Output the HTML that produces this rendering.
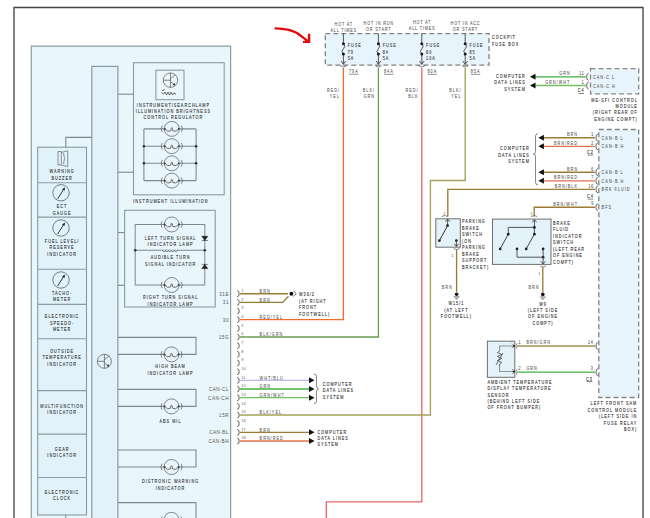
<!DOCTYPE html><html><head><meta charset="utf-8"><style>html,body{margin:0;padding:0;background:#fff;width:650px;height:518px;overflow:hidden}text{font-family:"Liberation Sans",sans-serif}</style></head><body><svg width="650" height="518" viewBox="0 0 650 518" style="display:block;font-family:'Liberation Sans',sans-serif">
<rect x="0" y="0" width="650" height="518" fill="#ffffff"/>
<polyline points="14,518 14,7.5 643,7.5 643,518" stroke="#444" stroke-width="1.35" fill="none" />
<rect x="31.3" y="46.1" width="199.3" height="480" fill="#e9f6fc" stroke="#8c9ba2" stroke-width="1.2"/>
<rect x="91.8" y="66.4" width="26.1" height="460" fill="#e1f2fa" stroke="#8c9ba2" stroke-width="1.2"/>
<rect x="37.7" y="147.2" width="48.8" height="367.8" fill="#e1f2fa" stroke="#8c9ba2" stroke-width="1.1"/>
<line x1="37.7" y1="182.8" x2="86.5" y2="182.8" stroke="#8c9ba2" stroke-width="1.1"/>
<line x1="37.7" y1="217.1" x2="86.5" y2="217.1" stroke="#8c9ba2" stroke-width="1.1"/>
<line x1="37.7" y1="269.2" x2="86.5" y2="269.2" stroke="#8c9ba2" stroke-width="1.1"/>
<line x1="37.7" y1="304.4" x2="86.5" y2="304.4" stroke="#8c9ba2" stroke-width="1.1"/>
<line x1="37.7" y1="338.7" x2="86.5" y2="338.7" stroke="#8c9ba2" stroke-width="1.1"/>
<line x1="37.7" y1="390.6" x2="86.5" y2="390.6" stroke="#8c9ba2" stroke-width="1.1"/>
<line x1="37.7" y1="434.1" x2="86.5" y2="434.1" stroke="#8c9ba2" stroke-width="1.1"/>
<line x1="37.7" y1="477.5" x2="86.5" y2="477.5" stroke="#8c9ba2" stroke-width="1.1"/>
<line x1="65.8" y1="515" x2="65.8" y2="518" stroke="#7d8a90" stroke-width="1.1"/>
<polyline points="65.8,147.2 65.8,137.4 91.8,137.4" stroke="#7d8a90" stroke-width="1.1" fill="none" />
<rect x="133.5" y="62.7" width="90.7" height="132.1" fill="#e9f6fc" stroke="#8c9ba2" stroke-width="1.1"/>
<line x1="118" y1="94.2" x2="133.5" y2="94.2" stroke="#7d8a90" stroke-width="1.1"/>
<line x1="118" y1="172.2" x2="133.5" y2="172.2" stroke="#7d8a90" stroke-width="1.1"/>
<rect x="155.9" y="70.2" width="28.1" height="29.5" fill="#e9f6fc" stroke="#8c9ba2" stroke-width="1.1"/>
<circle cx="170.5" cy="80.2" r="7.2" fill="none" stroke="#666" stroke-width="0.8"/>
<path d="M163.3,80.2 H170.5 M170.5,73.0 V87.4 M170.5,78.7 L175.3,74.7 M170.5,81.7 L175.0,85.2" stroke="#666" stroke-width="0.8" fill="none"/>
<path d="M175.3,85.60000000000001 l-2.6,-0.6 l1.8,-1.9 z" fill="#222"/>
<path d="M161.5,92.5 l2,1.5 l1.5,-2 l1.5,3 l1.5,-3 l1.5,3 l1.5,-3 l1.5,3 l1.5,-2 l2,1 M162,91 l3,-1.5" stroke="#444" stroke-width="0.8" fill="none"/>
<text transform="translate(173.4,106.8) scale(0.7,1)" font-size="5.4" fill="#2c2c2c" text-anchor="middle" letter-spacing="1.45" stroke="#2c2c2c" stroke-width="0.12">INSTRUMENT/SEARCHLAMP</text>
<text transform="translate(173.4,113) scale(0.7,1)" font-size="5.4" fill="#2c2c2c" text-anchor="middle" letter-spacing="1.45" stroke="#2c2c2c" stroke-width="0.12">ILLUMINATION BRIGHTNESS</text>
<text transform="translate(173.4,119.2) scale(0.7,1)" font-size="5.4" fill="#2c2c2c" text-anchor="middle" letter-spacing="1.45" stroke="#2c2c2c" stroke-width="0.12">CONTROL REGULATOR</text>
<line x1="143.9" y1="128.9" x2="143.9" y2="180.6" stroke="#7d8a90" stroke-width="1.1"/>
<line x1="196.1" y1="128.9" x2="196.1" y2="180.6" stroke="#7d8a90" stroke-width="1.1"/>
<line x1="143.9" y1="128.9" x2="196.1" y2="128.9" stroke="#7d8a90" stroke-width="1.1"/>
<circle cx="171.8" cy="128.9" r="7.5" fill="#e8f4fa" stroke="#6e7a80" stroke-width="0.9"/>
<path d="M164.8,128.9 Q167.8,132.70000000000002 170.70000000000002,130.8 M178.8,128.9 Q175.8,132.70000000000002 172.9,130.8 M170.70000000000002,130.8 Q171.8,124.4 172.9,130.8" stroke="#444" stroke-width="0.75" fill="none"/>
<circle cx="164.8" cy="128.9" r="0.9" fill="#333"/><circle cx="178.8" cy="128.9" r="0.9" fill="#333"/>
<path d="M162.20000000000002,125.7 q-2,3.2 0,6.4 M181.4,125.7 q2,3.2 0,6.4" stroke="#666" stroke-width="0.8" fill="none"/>
<line x1="143.9" y1="146.2" x2="196.1" y2="146.2" stroke="#7d8a90" stroke-width="1.1"/>
<circle cx="171.8" cy="146.2" r="7.5" fill="#e8f4fa" stroke="#6e7a80" stroke-width="0.9"/>
<path d="M164.8,146.2 Q167.8,150.0 170.70000000000002,148.1 M178.8,146.2 Q175.8,150.0 172.9,148.1 M170.70000000000002,148.1 Q171.8,141.7 172.9,148.1" stroke="#444" stroke-width="0.75" fill="none"/>
<circle cx="164.8" cy="146.2" r="0.9" fill="#333"/><circle cx="178.8" cy="146.2" r="0.9" fill="#333"/>
<path d="M162.20000000000002,143.0 q-2,3.2 0,6.4 M181.4,143.0 q2,3.2 0,6.4" stroke="#666" stroke-width="0.8" fill="none"/>
<line x1="143.9" y1="163.3" x2="196.1" y2="163.3" stroke="#7d8a90" stroke-width="1.1"/>
<circle cx="171.8" cy="163.3" r="7.5" fill="#e8f4fa" stroke="#6e7a80" stroke-width="0.9"/>
<path d="M164.8,163.3 Q167.8,167.10000000000002 170.70000000000002,165.20000000000002 M178.8,163.3 Q175.8,167.10000000000002 172.9,165.20000000000002 M170.70000000000002,165.20000000000002 Q171.8,158.8 172.9,165.20000000000002" stroke="#444" stroke-width="0.75" fill="none"/>
<circle cx="164.8" cy="163.3" r="0.9" fill="#333"/><circle cx="178.8" cy="163.3" r="0.9" fill="#333"/>
<path d="M162.20000000000002,160.10000000000002 q-2,3.2 0,6.4 M181.4,160.10000000000002 q2,3.2 0,6.4" stroke="#666" stroke-width="0.8" fill="none"/>
<line x1="143.9" y1="180.6" x2="196.1" y2="180.6" stroke="#7d8a90" stroke-width="1.1"/>
<circle cx="171.8" cy="180.6" r="7.5" fill="#e8f4fa" stroke="#6e7a80" stroke-width="0.9"/>
<path d="M164.8,180.6 Q167.8,184.4 170.70000000000002,182.5 M178.8,180.6 Q175.8,184.4 172.9,182.5 M170.70000000000002,182.5 Q171.8,176.1 172.9,182.5" stroke="#444" stroke-width="0.75" fill="none"/>
<circle cx="164.8" cy="180.6" r="0.9" fill="#333"/><circle cx="178.8" cy="180.6" r="0.9" fill="#333"/>
<path d="M162.20000000000002,177.4 q-2,3.2 0,6.4 M181.4,177.4 q2,3.2 0,6.4" stroke="#666" stroke-width="0.8" fill="none"/>
<circle cx="143.9" cy="146.2" r="1.3" fill="#333"/>
<circle cx="196.1" cy="146.2" r="1.3" fill="#333"/>
<circle cx="143.9" cy="163.3" r="1.3" fill="#333"/>
<circle cx="196.1" cy="163.3" r="1.3" fill="#333"/>
<text transform="translate(170.9,202.8) scale(0.7,1)" font-size="5.4" fill="#2c2c2c" text-anchor="middle" letter-spacing="1.45" stroke="#2c2c2c" stroke-width="0.12">INSTRUMENT ILLUMINATION</text>
<rect x="124.6" y="210.3" width="90.6" height="96.7" fill="#e9f6fc" stroke="#8c9ba2" stroke-width="1.1"/>
<line x1="118" y1="232.6" x2="124.6" y2="232.6" stroke="#7d8a90" stroke-width="1.1"/>
<line x1="118" y1="285.3" x2="124.6" y2="285.3" stroke="#7d8a90" stroke-width="1.1"/>
<rect x="135.2" y="224.5" width="69.6" height="60.5" fill="none" stroke="#7d8a90" stroke-width="1.0"/>
<line x1="135.2" y1="250.2" x2="204.8" y2="250.2" stroke="#7d8a90" stroke-width="1.1"/>
<circle cx="135.2" cy="250.2" r="1.3" fill="#333"/>
<circle cx="204.8" cy="250.2" r="1.3" fill="#333"/>
<circle cx="171.7" cy="224.5" r="7.5" fill="#e8f4fa" stroke="#6e7a80" stroke-width="0.9"/>
<path d="M164.7,224.5 Q167.7,228.3 170.6,226.4 M178.7,224.5 Q175.7,228.3 172.79999999999998,226.4 M170.6,226.4 Q171.7,220.0 172.79999999999998,226.4" stroke="#444" stroke-width="0.75" fill="none"/>
<circle cx="164.7" cy="224.5" r="0.9" fill="#333"/><circle cx="178.7" cy="224.5" r="0.9" fill="#333"/>
<path d="M162.1,221.3 q-2,3.2 0,6.4 M181.29999999999998,221.3 q2,3.2 0,6.4" stroke="#666" stroke-width="0.8" fill="none"/>
<circle cx="171.7" cy="285" r="7.5" fill="#e8f4fa" stroke="#6e7a80" stroke-width="0.9"/>
<path d="M164.7,285 Q167.7,288.8 170.6,286.9 M178.7,285 Q175.7,288.8 172.79999999999998,286.9 M170.6,286.9 Q171.7,280.5 172.79999999999998,286.9" stroke="#444" stroke-width="0.75" fill="none"/>
<circle cx="164.7" cy="285" r="0.9" fill="#333"/><circle cx="178.7" cy="285" r="0.9" fill="#333"/>
<path d="M162.1,281.8 q-2,3.2 0,6.4 M181.29999999999998,281.8 q2,3.2 0,6.4" stroke="#666" stroke-width="0.8" fill="none"/>
<path d="M162.5,250.2 q1.5,3.2 3,0 q1.5,3.2 3,0 q1.5,3.2 3,0 q1.5,3.2 3,0 q1.5,3.2 3,0" stroke="#555" stroke-width="0.8" fill="#e9f5fb"/>
<path d="M201.8,236.3 h6 l-3,4 z M201.8,240.5 h6" fill="#222" stroke="#222" stroke-width="0.6"/>
<path d="M201.8,268.6 h6 l-3,-4 z M201.8,264.4 h6" fill="#222" stroke="#222" stroke-width="0.6"/>
<text transform="translate(170.6,239.9) scale(0.7,1)" font-size="5.4" fill="#2c2c2c" text-anchor="middle" letter-spacing="1.45" stroke="#2c2c2c" stroke-width="0.12">LEFT TURN SIGNAL</text>
<text transform="translate(170.6,245.9) scale(0.7,1)" font-size="5.4" fill="#2c2c2c" text-anchor="middle" letter-spacing="1.45" stroke="#2c2c2c" stroke-width="0.12">INDICATOR LAMP</text>
<text transform="translate(170.6,259) scale(0.7,1)" font-size="5.4" fill="#2c2c2c" text-anchor="middle" letter-spacing="1.45" stroke="#2c2c2c" stroke-width="0.12">AUDIBLE TURN</text>
<text transform="translate(170.6,265.8) scale(0.7,1)" font-size="5.4" fill="#2c2c2c" text-anchor="middle" letter-spacing="1.45" stroke="#2c2c2c" stroke-width="0.12">SIGNAL INDICATOR</text>
<text transform="translate(170.6,299.4) scale(0.7,1)" font-size="5.4" fill="#2c2c2c" text-anchor="middle" letter-spacing="1.45" stroke="#2c2c2c" stroke-width="0.12">RIGHT TURN SIGNAL</text>
<text transform="translate(170.6,305.7) scale(0.7,1)" font-size="5.4" fill="#2c2c2c" text-anchor="middle" letter-spacing="1.45" stroke="#2c2c2c" stroke-width="0.12">INDICATOR LAMP</text>
<polyline points="118,337.4 196,337.4 196,354.4 118,354.4" stroke="#7d8a90" stroke-width="1.1" fill="none" />
<circle cx="171.5" cy="354.4" r="7.5" fill="#e8f4fa" stroke="#6e7a80" stroke-width="0.9"/>
<path d="M164.5,354.4 Q167.5,358.2 170.4,356.29999999999995 M178.5,354.4 Q175.5,358.2 172.6,356.29999999999995 M170.4,356.29999999999995 Q171.5,349.9 172.6,356.29999999999995" stroke="#444" stroke-width="0.75" fill="none"/>
<circle cx="164.5" cy="354.4" r="0.9" fill="#333"/><circle cx="178.5" cy="354.4" r="0.9" fill="#333"/>
<path d="M161.9,351.2 q-2,3.2 0,6.4 M181.1,351.2 q2,3.2 0,6.4" stroke="#666" stroke-width="0.8" fill="none"/>
<text transform="translate(170.5,368.4) scale(0.7,1)" font-size="5.4" fill="#2c2c2c" text-anchor="middle" letter-spacing="1.45" stroke="#2c2c2c" stroke-width="0.12">HIGH BEAM</text>
<text transform="translate(170.5,375) scale(0.7,1)" font-size="5.4" fill="#2c2c2c" text-anchor="middle" letter-spacing="1.45" stroke="#2c2c2c" stroke-width="0.12">INDICATOR LAMP</text>
<polyline points="118,389.4 196,389.4 196,406.4 118,406.4" stroke="#7d8a90" stroke-width="1.1" fill="none" />
<circle cx="171.5" cy="406.4" r="7.5" fill="#e8f4fa" stroke="#6e7a80" stroke-width="0.9"/>
<path d="M164.5,406.4 Q167.5,410.2 170.4,408.29999999999995 M178.5,406.4 Q175.5,410.2 172.6,408.29999999999995 M170.4,408.29999999999995 Q171.5,401.9 172.6,408.29999999999995" stroke="#444" stroke-width="0.75" fill="none"/>
<circle cx="164.5" cy="406.4" r="0.9" fill="#333"/><circle cx="178.5" cy="406.4" r="0.9" fill="#333"/>
<path d="M161.9,403.2 q-2,3.2 0,6.4 M181.1,403.2 q2,3.2 0,6.4" stroke="#666" stroke-width="0.8" fill="none"/>
<text transform="translate(170.5,423) scale(0.7,1)" font-size="5.4" fill="#2c2c2c" text-anchor="middle" letter-spacing="1.45" stroke="#2c2c2c" stroke-width="0.12">ABS MIL</text>
<polyline points="118,450 196,450 196,467 118,467" stroke="#7d8a90" stroke-width="1.1" fill="none" />
<circle cx="171.5" cy="467" r="7.5" fill="#e8f4fa" stroke="#6e7a80" stroke-width="0.9"/>
<path d="M164.5,467 Q167.5,470.8 170.4,468.9 M178.5,467 Q175.5,470.8 172.6,468.9 M170.4,468.9 Q171.5,462.5 172.6,468.9" stroke="#444" stroke-width="0.75" fill="none"/>
<circle cx="164.5" cy="467" r="0.9" fill="#333"/><circle cx="178.5" cy="467" r="0.9" fill="#333"/>
<path d="M161.9,463.8 q-2,3.2 0,6.4 M181.1,463.8 q2,3.2 0,6.4" stroke="#666" stroke-width="0.8" fill="none"/>
<text transform="translate(170.5,483.4) scale(0.7,1)" font-size="5.4" fill="#2c2c2c" text-anchor="middle" letter-spacing="1.45" stroke="#2c2c2c" stroke-width="0.12">DISTRONIC WARNING</text>
<text transform="translate(170.5,490) scale(0.7,1)" font-size="5.4" fill="#2c2c2c" text-anchor="middle" letter-spacing="1.45" stroke="#2c2c2c" stroke-width="0.12">INDICATOR</text>
<polyline points="118,502.6 196,502.6 196,520" stroke="#7d8a90" stroke-width="1.1" fill="none" />
<circle cx="171.5" cy="519.8" r="7.5" fill="#e8f4fa" stroke="#6e7a80" stroke-width="0.9"/>
<path d="M164.5,519.8 Q167.5,523.5999999999999 170.4,521.6999999999999 M178.5,519.8 Q175.5,523.5999999999999 172.6,521.6999999999999 M170.4,521.6999999999999 Q171.5,515.3 172.6,521.6999999999999" stroke="#444" stroke-width="0.75" fill="none"/>
<circle cx="164.5" cy="519.8" r="0.9" fill="#333"/><circle cx="178.5" cy="519.8" r="0.9" fill="#333"/>
<path d="M161.9,516.5999999999999 q-2,3.2 0,6.4 M181.1,516.5999999999999 q2,3.2 0,6.4" stroke="#666" stroke-width="0.8" fill="none"/>
<circle cx="104.4" cy="361.3" r="7" fill="none" stroke="#666" stroke-width="0.8"/>
<path d="M97.4,361.3 H104.4 M104.4,354.3 V368.3 M104.4,359.8 L109.2,355.8 M104.4,362.8 L108.9,366.3" stroke="#666" stroke-width="0.8" fill="none"/>
<path d="M109.2,366.7 l-2.6,-0.6 l1.8,-1.9 z" fill="#222"/>
<path d="M58,151.5 h3.3 v13.5 h-3.3 z M61.3,152.5 l6.4,-1.8 v16 l-6.4,-1.7 M63.5,153 q2,5.5 0,11" stroke="#666" stroke-width="0.7" fill="none"/>
<circle cx="61" cy="192.8" r="8.2" fill="none" stroke="#555" stroke-width="0.75"/>
<path d="M57.6,198.8 L63.8,189.20000000000002" stroke="#222" stroke-width="0.9"/>
<path d="M65,187.20000000000002 l-0.4,3.6 l-2.6,-1.6 z" fill="#222"/>
<circle cx="61" cy="228" r="8.2" fill="none" stroke="#555" stroke-width="0.75"/>
<path d="M57.6,234 L63.8,224.4" stroke="#222" stroke-width="0.9"/>
<path d="M65,222.4 l-0.4,3.6 l-2.6,-1.6 z" fill="#222"/>
<circle cx="61" cy="280" r="8.2" fill="none" stroke="#555" stroke-width="0.75"/>
<path d="M57.6,286 L63.8,276.4" stroke="#222" stroke-width="0.9"/>
<path d="M65,274.4 l-0.4,3.6 l-2.6,-1.6 z" fill="#222"/>
<text transform="translate(62.1,172.8) scale(0.7,1)" font-size="5.4" fill="#2c2c2c" text-anchor="middle" letter-spacing="1.45" stroke="#2c2c2c" stroke-width="0.12">WARNING</text>
<text transform="translate(62.1,179.5) scale(0.7,1)" font-size="5.4" fill="#2c2c2c" text-anchor="middle" letter-spacing="1.45" stroke="#2c2c2c" stroke-width="0.12">BUZZER</text>
<text transform="translate(62.1,208) scale(0.7,1)" font-size="5.4" fill="#2c2c2c" text-anchor="middle" letter-spacing="1.45" stroke="#2c2c2c" stroke-width="0.12">ECT</text>
<text transform="translate(62.1,214.5) scale(0.7,1)" font-size="5.4" fill="#2c2c2c" text-anchor="middle" letter-spacing="1.45" stroke="#2c2c2c" stroke-width="0.12">GAUGE</text>
<text transform="translate(62.1,243.2) scale(0.7,1)" font-size="5.4" fill="#2c2c2c" text-anchor="middle" letter-spacing="1.45" stroke="#2c2c2c" stroke-width="0.12">FUEL LEVEL/</text>
<text transform="translate(62.1,249.2) scale(0.7,1)" font-size="5.4" fill="#2c2c2c" text-anchor="middle" letter-spacing="1.45" stroke="#2c2c2c" stroke-width="0.12">RESERVE</text>
<text transform="translate(62.1,255.5) scale(0.7,1)" font-size="5.4" fill="#2c2c2c" text-anchor="middle" letter-spacing="1.45" stroke="#2c2c2c" stroke-width="0.12">INDICATOR</text>
<text transform="translate(62.1,295.3) scale(0.7,1)" font-size="5.4" fill="#2c2c2c" text-anchor="middle" letter-spacing="1.45" stroke="#2c2c2c" stroke-width="0.12">TACHO-</text>
<text transform="translate(62.1,301.3) scale(0.7,1)" font-size="5.4" fill="#2c2c2c" text-anchor="middle" letter-spacing="1.45" stroke="#2c2c2c" stroke-width="0.12">METER</text>
<text transform="translate(62.1,318) scale(0.7,1)" font-size="5.4" fill="#2c2c2c" text-anchor="middle" letter-spacing="1.45" stroke="#2c2c2c" stroke-width="0.12">ELECTRONIC</text>
<text transform="translate(62.1,324.5) scale(0.7,1)" font-size="5.4" fill="#2c2c2c" text-anchor="middle" letter-spacing="1.45" stroke="#2c2c2c" stroke-width="0.12">SPEEDO-</text>
<text transform="translate(62.1,330.7) scale(0.7,1)" font-size="5.4" fill="#2c2c2c" text-anchor="middle" letter-spacing="1.45" stroke="#2c2c2c" stroke-width="0.12">METER</text>
<text transform="translate(62.1,353.2) scale(0.7,1)" font-size="5.4" fill="#2c2c2c" text-anchor="middle" letter-spacing="1.45" stroke="#2c2c2c" stroke-width="0.12">OUTSIDE</text>
<text transform="translate(62.1,359.2) scale(0.7,1)" font-size="5.4" fill="#2c2c2c" text-anchor="middle" letter-spacing="1.45" stroke="#2c2c2c" stroke-width="0.12">TEMPERATURE</text>
<text transform="translate(62.1,365.5) scale(0.7,1)" font-size="5.4" fill="#2c2c2c" text-anchor="middle" letter-spacing="1.45" stroke="#2c2c2c" stroke-width="0.12">INDICATOR</text>
<text transform="translate(62.1,407.6) scale(0.7,1)" font-size="5.4" fill="#2c2c2c" text-anchor="middle" letter-spacing="1.45" stroke="#2c2c2c" stroke-width="0.12">MULTIFUNCTION</text>
<text transform="translate(62.1,414) scale(0.7,1)" font-size="5.4" fill="#2c2c2c" text-anchor="middle" letter-spacing="1.45" stroke="#2c2c2c" stroke-width="0.12">INDICATOR</text>
<text transform="translate(62.1,450.7) scale(0.7,1)" font-size="5.4" fill="#2c2c2c" text-anchor="middle" letter-spacing="1.45" stroke="#2c2c2c" stroke-width="0.12">GEAR</text>
<text transform="translate(62.1,457) scale(0.7,1)" font-size="5.4" fill="#2c2c2c" text-anchor="middle" letter-spacing="1.45" stroke="#2c2c2c" stroke-width="0.12">INDICATOR</text>
<text transform="translate(62.1,494.3) scale(0.7,1)" font-size="5.4" fill="#2c2c2c" text-anchor="middle" letter-spacing="1.45" stroke="#2c2c2c" stroke-width="0.12">ELECTRONIC</text>
<text transform="translate(62.1,500.2) scale(0.7,1)" font-size="5.4" fill="#2c2c2c" text-anchor="middle" letter-spacing="1.45" stroke="#2c2c2c" stroke-width="0.12">CLOCK</text>
<path d="M237.2,290.7 q2.4,0.6 1.9,3 q0.5,2.6 -1.9,3" stroke="#444" stroke-width="0.85" fill="none"/>
<text transform="translate(241.2,292.0) scale(0.9,1)" font-size="4.4" fill="#666" text-anchor="start" letter-spacing="0.2">1</text>
<path d="M237.2,299.37 q2.4,0.6 1.9,3 q0.5,2.6 -1.9,3" stroke="#444" stroke-width="0.85" fill="none"/>
<text transform="translate(241.2,300.67) scale(0.9,1)" font-size="4.4" fill="#666" text-anchor="start" letter-spacing="0.2">2</text>
<path d="M237.2,308.03 q2.4,0.6 1.9,3 q0.5,2.6 -1.9,3" stroke="#444" stroke-width="0.85" fill="none"/>
<text transform="translate(241.2,309.33) scale(0.9,1)" font-size="4.4" fill="#666" text-anchor="start" letter-spacing="0.2">3</text>
<path d="M237.2,316.69 q2.4,0.6 1.9,3 q0.5,2.6 -1.9,3" stroke="#444" stroke-width="0.85" fill="none"/>
<text transform="translate(241.2,317.99) scale(0.9,1)" font-size="4.4" fill="#666" text-anchor="start" letter-spacing="0.2">4</text>
<path d="M237.2,325.36 q2.4,0.6 1.9,3 q0.5,2.6 -1.9,3" stroke="#444" stroke-width="0.85" fill="none"/>
<text transform="translate(241.2,326.66) scale(0.9,1)" font-size="4.4" fill="#666" text-anchor="start" letter-spacing="0.2">5</text>
<path d="M237.2,334.02 q2.4,0.6 1.9,3 q0.5,2.6 -1.9,3" stroke="#444" stroke-width="0.85" fill="none"/>
<text transform="translate(241.2,335.32) scale(0.9,1)" font-size="4.4" fill="#666" text-anchor="start" letter-spacing="0.2">6</text>
<path d="M237.2,342.69 q2.4,0.6 1.9,3 q0.5,2.6 -1.9,3" stroke="#444" stroke-width="0.85" fill="none"/>
<text transform="translate(241.2,343.99) scale(0.9,1)" font-size="4.4" fill="#666" text-anchor="start" letter-spacing="0.2">7</text>
<path d="M237.2,351.35 q2.4,0.6 1.9,3 q0.5,2.6 -1.9,3" stroke="#444" stroke-width="0.85" fill="none"/>
<text transform="translate(241.2,352.65000000000003) scale(0.9,1)" font-size="4.4" fill="#666" text-anchor="start" letter-spacing="0.2">8</text>
<path d="M237.2,360.02 q2.4,0.6 1.9,3 q0.5,2.6 -1.9,3" stroke="#444" stroke-width="0.85" fill="none"/>
<text transform="translate(241.2,361.32) scale(0.9,1)" font-size="4.4" fill="#666" text-anchor="start" letter-spacing="0.2">9</text>
<path d="M237.2,368.68 q2.4,0.6 1.9,3 q0.5,2.6 -1.9,3" stroke="#444" stroke-width="0.85" fill="none"/>
<text transform="translate(241.2,369.98) scale(0.9,1)" font-size="4.4" fill="#666" text-anchor="start" letter-spacing="0.2">10</text>
<path d="M237.2,377.35 q2.4,0.6 1.9,3 q0.5,2.6 -1.9,3" stroke="#444" stroke-width="0.85" fill="none"/>
<text transform="translate(241.2,378.65000000000003) scale(0.9,1)" font-size="4.4" fill="#666" text-anchor="start" letter-spacing="0.2">11</text>
<path d="M237.2,386.01 q2.4,0.6 1.9,3 q0.5,2.6 -1.9,3" stroke="#444" stroke-width="0.85" fill="none"/>
<text transform="translate(241.2,387.31) scale(0.9,1)" font-size="4.4" fill="#666" text-anchor="start" letter-spacing="0.2">12</text>
<path d="M237.2,394.68 q2.4,0.6 1.9,3 q0.5,2.6 -1.9,3" stroke="#444" stroke-width="0.85" fill="none"/>
<text transform="translate(241.2,395.98) scale(0.9,1)" font-size="4.4" fill="#666" text-anchor="start" letter-spacing="0.2">13</text>
<path d="M237.2,403.34 q2.4,0.6 1.9,3 q0.5,2.6 -1.9,3" stroke="#444" stroke-width="0.85" fill="none"/>
<text transform="translate(241.2,404.64) scale(0.9,1)" font-size="4.4" fill="#666" text-anchor="start" letter-spacing="0.2">14</text>
<path d="M237.2,412.01 q2.4,0.6 1.9,3 q0.5,2.6 -1.9,3" stroke="#444" stroke-width="0.85" fill="none"/>
<text transform="translate(241.2,413.31) scale(0.9,1)" font-size="4.4" fill="#666" text-anchor="start" letter-spacing="0.2">15</text>
<path d="M237.2,420.67 q2.4,0.6 1.9,3 q0.5,2.6 -1.9,3" stroke="#444" stroke-width="0.85" fill="none"/>
<text transform="translate(241.2,421.97) scale(0.9,1)" font-size="4.4" fill="#666" text-anchor="start" letter-spacing="0.2">16</text>
<path d="M237.2,429.34 q2.4,0.6 1.9,3 q0.5,2.6 -1.9,3" stroke="#444" stroke-width="0.85" fill="none"/>
<text transform="translate(241.2,430.64) scale(0.9,1)" font-size="4.4" fill="#666" text-anchor="start" letter-spacing="0.2">17</text>
<path d="M237.2,438.0 q2.4,0.6 1.9,3 q0.5,2.6 -1.9,3" stroke="#444" stroke-width="0.85" fill="none"/>
<text transform="translate(241.2,439.3) scale(0.9,1)" font-size="4.4" fill="#666" text-anchor="start" letter-spacing="0.2">18</text>
<text transform="translate(229,295.7) scale(0.85,1)" font-size="5.4" fill="#555" text-anchor="end" letter-spacing="0.6">31E</text>
<text transform="translate(229,304.37) scale(0.85,1)" font-size="5.4" fill="#555" text-anchor="end" letter-spacing="0.6">31</text>
<text transform="translate(229,321.69) scale(0.85,1)" font-size="5.4" fill="#555" text-anchor="end" letter-spacing="0.6">30</text>
<text transform="translate(229,339.02) scale(0.85,1)" font-size="5.4" fill="#555" text-anchor="end" letter-spacing="0.6">15G</text>
<text transform="translate(229,391.01) scale(0.85,1)" font-size="5.4" fill="#555" text-anchor="end" letter-spacing="0.6">CAN-CL</text>
<text transform="translate(229,399.68) scale(0.85,1)" font-size="5.4" fill="#555" text-anchor="end" letter-spacing="0.6">CAN-CH</text>
<text transform="translate(229,417.01) scale(0.85,1)" font-size="5.4" fill="#555" text-anchor="end" letter-spacing="0.6">15R</text>
<text transform="translate(229,434.34) scale(0.85,1)" font-size="5.4" fill="#555" text-anchor="end" letter-spacing="0.6">CAN-BL</text>
<text transform="translate(229,443.0) scale(0.85,1)" font-size="5.4" fill="#555" text-anchor="end" letter-spacing="0.6">CAN-BH</text>
<polyline points="240,293.7 288,293.7" stroke="#9c7c34" stroke-width="1.35" fill="none" />
<polyline points="240,302.37 282.7,302.37 288.5,296.3" stroke="#9c7c34" stroke-width="1.35" fill="none" />
<circle cx="291.4" cy="293.7" r="2.0" fill="#111"/>
<path d="M293.5,291 l2.8,2.7 l-2.8,2.7" stroke="#444" stroke-width="0.8" fill="none"/>
<text transform="translate(299,296) scale(0.7,1)" font-size="5.4" fill="#2c2c2c" text-anchor="start" letter-spacing="1.45" stroke="#2c2c2c" stroke-width="0.12">W36/2</text>
<text transform="translate(299,302.6) scale(0.7,1)" font-size="5.4" fill="#2c2c2c" text-anchor="start" letter-spacing="1.45" stroke="#2c2c2c" stroke-width="0.12">(AT RIGHT</text>
<text transform="translate(299,309) scale(0.7,1)" font-size="5.4" fill="#2c2c2c" text-anchor="start" letter-spacing="1.45" stroke="#2c2c2c" stroke-width="0.12">FRONT</text>
<text transform="translate(299,315.6) scale(0.7,1)" font-size="5.4" fill="#2c2c2c" text-anchor="start" letter-spacing="1.45" stroke="#2c2c2c" stroke-width="0.12">FOOTWELL)</text>
<text transform="translate(259.6,292.9) scale(0.7,1)" font-size="5.4" fill="#4a4a4a" text-anchor="start" letter-spacing="1.45" stroke="#4a4a4a" stroke-width="0.05">BRN</text>
<text transform="translate(259.6,301.57) scale(0.7,1)" font-size="5.4" fill="#4a4a4a" text-anchor="start" letter-spacing="1.45" stroke="#4a4a4a" stroke-width="0.05">BRN</text>
<text transform="translate(259.6,318.89) scale(0.7,1)" font-size="5.4" fill="#4a4a4a" text-anchor="start" letter-spacing="1.45" stroke="#4a4a4a" stroke-width="0.05">RED/YEL</text>
<text transform="translate(259.6,336.21999999999997) scale(0.7,1)" font-size="5.4" fill="#4a4a4a" text-anchor="start" letter-spacing="1.45" stroke="#4a4a4a" stroke-width="0.05">BLK/GRN</text>
<text transform="translate(259.6,379.55) scale(0.7,1)" font-size="5.4" fill="#4a4a4a" text-anchor="start" letter-spacing="1.45" stroke="#4a4a4a" stroke-width="0.05">WHT/BLU</text>
<text transform="translate(259.6,388.21) scale(0.7,1)" font-size="5.4" fill="#4a4a4a" text-anchor="start" letter-spacing="1.45" stroke="#4a4a4a" stroke-width="0.05">GRN</text>
<text transform="translate(259.6,396.88) scale(0.7,1)" font-size="5.4" fill="#4a4a4a" text-anchor="start" letter-spacing="1.45" stroke="#4a4a4a" stroke-width="0.05">GRN/WHT</text>
<text transform="translate(259.6,414.21) scale(0.7,1)" font-size="5.4" fill="#4a4a4a" text-anchor="start" letter-spacing="1.45" stroke="#4a4a4a" stroke-width="0.05">BLK/YEL</text>
<text transform="translate(259.6,431.53999999999996) scale(0.7,1)" font-size="5.4" fill="#4a4a4a" text-anchor="start" letter-spacing="1.45" stroke="#4a4a4a" stroke-width="0.05">BRN</text>
<text transform="translate(259.6,440.2) scale(0.7,1)" font-size="5.4" fill="#4a4a4a" text-anchor="start" letter-spacing="1.45" stroke="#4a4a4a" stroke-width="0.05">BRN/RED</text>
<line x1="240" y1="380.35" x2="310" y2="380.35" stroke="#b9b6f0" stroke-width="1.35"/>
<path d="M314.5,380.35 L309.0,377.35 L309.0,383.35 Z" fill="#111"/>
<line x1="240" y1="389.01" x2="310" y2="389.01" stroke="#40b040" stroke-width="1.35"/>
<path d="M314.5,389.01 L309.0,386.01 L309.0,392.01 Z" fill="#111"/>
<line x1="240" y1="397.68" x2="310" y2="397.68" stroke="#70c060" stroke-width="1.35"/>
<path d="M314.5,397.68 L309.0,394.68 L309.0,400.68 Z" fill="#111"/>
<line x1="240" y1="432.34" x2="310" y2="432.34" stroke="#9c7c34" stroke-width="1.35"/>
<path d="M314.5,432.34 L309.0,429.34 L309.0,435.34 Z" fill="#111"/>
<line x1="240" y1="441.0" x2="310" y2="441.0" stroke="#e2704e" stroke-width="1.35"/>
<path d="M314.5,441.0 L309.0,438.0 L309.0,444.0 Z" fill="#111"/>
<path d="M314,374 q2.5,0 2.5,2.5 v9.3 q0,2.5 2,3 q-2,0.5 -2,3 v9.3 q0,2.5 -2.5,2.5" stroke="#555" stroke-width="0.7" fill="none"/>
<text transform="translate(322.7,386.4) scale(0.7,1)" font-size="5.4" fill="#2c2c2c" text-anchor="start" letter-spacing="1.45" stroke="#2c2c2c" stroke-width="0.12">COMPUTER</text>
<text transform="translate(322.7,392.4) scale(0.7,1)" font-size="5.4" fill="#2c2c2c" text-anchor="start" letter-spacing="1.45" stroke="#2c2c2c" stroke-width="0.12">DATA LINES</text>
<text transform="translate(322.7,398.6) scale(0.7,1)" font-size="5.4" fill="#2c2c2c" text-anchor="start" letter-spacing="1.45" stroke="#2c2c2c" stroke-width="0.12">SYSTEM</text>
<text transform="translate(317.4,434) scale(0.7,1)" font-size="5.4" fill="#2c2c2c" text-anchor="start" letter-spacing="1.45" stroke="#2c2c2c" stroke-width="0.12">COMPUTER</text>
<text transform="translate(317.4,440.2) scale(0.7,1)" font-size="5.4" fill="#2c2c2c" text-anchor="start" letter-spacing="1.45" stroke="#2c2c2c" stroke-width="0.12">DATA LINES</text>
<text transform="translate(317.4,446.2) scale(0.7,1)" font-size="5.4" fill="#2c2c2c" text-anchor="start" letter-spacing="1.45" stroke="#2c2c2c" stroke-width="0.12">SYSTEM</text>
<polyline points="343.4,68 343.4,319.69 240,319.69" stroke="#f06c2c" stroke-width="1.35" fill="none" />
<polyline points="378.4,68 378.4,337.02 240,337.02" stroke="#6a9e52" stroke-width="1.35" fill="none" />
<polyline points="421.8,68 421.8,501.8 326.3,501.8 326.3,520" stroke="#ea6868" stroke-width="1.35" fill="none" />
<polyline points="465.2,68 465.2,180.5 430.4,180.5 430.4,415.01 240,415.01" stroke="#a4a25a" stroke-width="1.35" fill="none" />
<path d="M275.6,28.4 C284,28.6 291,29.8 297,33 L308.6,41.6 M309.1,34.6 V41.9 H304" stroke="#e30b0b" stroke-width="2.4" fill="none" stroke-linecap="round" stroke-linejoin="miter"/>
<rect x="325.3" y="33.6" width="163.7" height="31.6" fill="#e7f4fb" stroke="#808080" stroke-width="1.3" stroke-dasharray="5,3"/>
<text transform="translate(492,39) scale(0.7,1)" font-size="5.4" fill="#2c2c2c" text-anchor="start" letter-spacing="1.45" stroke="#2c2c2c" stroke-width="0.12">COCKPIT</text>
<text transform="translate(492,45.6) scale(0.7,1)" font-size="5.4" fill="#2c2c2c" text-anchor="start" letter-spacing="1.45" stroke="#2c2c2c" stroke-width="0.12">FUSE BOX</text>
<path d="M343.4,33.6 V43.8 M343.4,43.8 q3,2.2 0,5 q-3,2.8 0,5 M343.4,53.9 V64.2 M341.09999999999997,61 L343.4,64.3 L345.7,61" stroke="#444" stroke-width="0.9" fill="none"/>
<circle cx="343.4" cy="43.8" r="1.5" fill="#1a1a1a"/>
<circle cx="343.4" cy="53.9" r="1.5" fill="#1a1a1a"/>
<path d="M340.2,65.6 q3.2,3 6.4,0" stroke="#555" stroke-width="0.8" fill="none"/>
<text transform="translate(347.7,47.3) scale(0.7,1)" font-size="5.4" fill="#3a3a3a" text-anchor="start" letter-spacing="1.45" stroke="#3a3a3a" stroke-width="0.12">FUSE</text>
<text transform="translate(347.7,53.7) scale(0.7,1)" font-size="5.4" fill="#3a3a3a" text-anchor="start" letter-spacing="1.45" stroke="#3a3a3a" stroke-width="0.12">79</text>
<text transform="translate(347.7,60.3) scale(0.7,1)" font-size="5.4" fill="#3a3a3a" text-anchor="start" letter-spacing="1.45" stroke="#3a3a3a" stroke-width="0.12">5A</text>
<text transform="translate(349.0,73.2) scale(0.7,1)" font-size="5.4" fill="#4a4a4a" text-anchor="start" letter-spacing="1.45" stroke="#4a4a4a" stroke-width="0.05">79A</text>
<line x1="349.0" y1="74.3" x2="358.5" y2="74.3" stroke="#4a4a4a" stroke-width="0.6"/>
<text transform="translate(343.7,25.9) scale(0.64,1)" font-size="6" fill="#4a4a4a" text-anchor="middle" letter-spacing="1.25" stroke="#4a4a4a" stroke-width="0.05">HOT AT</text>
<text transform="translate(343.7,31.8) scale(0.64,1)" font-size="6" fill="#4a4a4a" text-anchor="middle" letter-spacing="1.25" stroke="#4a4a4a" stroke-width="0.05">ALL TIMES</text>
<path d="M378.4,33.6 V43.8 M378.4,43.8 q3,2.2 0,5 q-3,2.8 0,5 M378.4,53.9 V64.2 M376.09999999999997,61 L378.4,64.3 L380.7,61" stroke="#444" stroke-width="0.9" fill="none"/>
<circle cx="378.4" cy="43.8" r="1.5" fill="#1a1a1a"/>
<circle cx="378.4" cy="53.9" r="1.5" fill="#1a1a1a"/>
<path d="M375.2,65.6 q3.2,3 6.4,0" stroke="#555" stroke-width="0.8" fill="none"/>
<text transform="translate(382.7,47.3) scale(0.7,1)" font-size="5.4" fill="#3a3a3a" text-anchor="start" letter-spacing="1.45" stroke="#3a3a3a" stroke-width="0.12">FUSE</text>
<text transform="translate(382.7,53.7) scale(0.7,1)" font-size="5.4" fill="#3a3a3a" text-anchor="start" letter-spacing="1.45" stroke="#3a3a3a" stroke-width="0.12">84</text>
<text transform="translate(382.7,60.3) scale(0.7,1)" font-size="5.4" fill="#3a3a3a" text-anchor="start" letter-spacing="1.45" stroke="#3a3a3a" stroke-width="0.12">5A</text>
<text transform="translate(384.0,73.2) scale(0.7,1)" font-size="5.4" fill="#4a4a4a" text-anchor="start" letter-spacing="1.45" stroke="#4a4a4a" stroke-width="0.05">84A</text>
<line x1="384.0" y1="74.3" x2="393.5" y2="74.3" stroke="#4a4a4a" stroke-width="0.6"/>
<text transform="translate(378.7,24.6) scale(0.64,1)" font-size="6" fill="#4a4a4a" text-anchor="middle" letter-spacing="1.25" stroke="#4a4a4a" stroke-width="0.05">HOT IN RUN</text>
<text transform="translate(378.7,30.8) scale(0.64,1)" font-size="6" fill="#4a4a4a" text-anchor="middle" letter-spacing="1.25" stroke="#4a4a4a" stroke-width="0.05">OR START</text>
<path d="M421.8,33.6 V43.8 M421.8,43.8 q3,2.2 0,5 q-3,2.8 0,5 M421.8,53.9 V64.2 M419.5,61 L421.8,64.3 L424.1,61" stroke="#444" stroke-width="0.9" fill="none"/>
<circle cx="421.8" cy="43.8" r="1.5" fill="#1a1a1a"/>
<circle cx="421.8" cy="53.9" r="1.5" fill="#1a1a1a"/>
<path d="M418.6,65.6 q3.2,3 6.4,0" stroke="#555" stroke-width="0.8" fill="none"/>
<text transform="translate(426.1,47.3) scale(0.7,1)" font-size="5.4" fill="#3a3a3a" text-anchor="start" letter-spacing="1.45" stroke="#3a3a3a" stroke-width="0.12">FUSE</text>
<text transform="translate(426.1,53.7) scale(0.7,1)" font-size="5.4" fill="#3a3a3a" text-anchor="start" letter-spacing="1.45" stroke="#3a3a3a" stroke-width="0.12">80</text>
<text transform="translate(426.1,60.3) scale(0.7,1)" font-size="5.4" fill="#3a3a3a" text-anchor="start" letter-spacing="1.45" stroke="#3a3a3a" stroke-width="0.12">10A</text>
<text transform="translate(427.40000000000003,73.2) scale(0.7,1)" font-size="5.4" fill="#4a4a4a" text-anchor="start" letter-spacing="1.45" stroke="#4a4a4a" stroke-width="0.05">80A</text>
<line x1="427.40000000000003" y1="74.3" x2="436.90000000000003" y2="74.3" stroke="#4a4a4a" stroke-width="0.6"/>
<text transform="translate(422.1,23.8) scale(0.64,1)" font-size="6" fill="#4a4a4a" text-anchor="middle" letter-spacing="1.25" stroke="#4a4a4a" stroke-width="0.05">HOT AT</text>
<text transform="translate(422.1,29.7) scale(0.64,1)" font-size="6" fill="#4a4a4a" text-anchor="middle" letter-spacing="1.25" stroke="#4a4a4a" stroke-width="0.05">ALL TIMES</text>
<path d="M465.2,33.6 V43.8 M465.2,43.8 q3,2.2 0,5 q-3,2.8 0,5 M465.2,53.9 V64.2 M462.9,61 L465.2,64.3 L467.5,61" stroke="#444" stroke-width="0.9" fill="none"/>
<circle cx="465.2" cy="43.8" r="1.5" fill="#1a1a1a"/>
<circle cx="465.2" cy="53.9" r="1.5" fill="#1a1a1a"/>
<path d="M462.0,65.6 q3.2,3 6.4,0" stroke="#555" stroke-width="0.8" fill="none"/>
<text transform="translate(469.5,47.3) scale(0.7,1)" font-size="5.4" fill="#3a3a3a" text-anchor="start" letter-spacing="1.45" stroke="#3a3a3a" stroke-width="0.12">FUSE</text>
<text transform="translate(469.5,53.7) scale(0.7,1)" font-size="5.4" fill="#3a3a3a" text-anchor="start" letter-spacing="1.45" stroke="#3a3a3a" stroke-width="0.12">85</text>
<text transform="translate(469.5,60.3) scale(0.7,1)" font-size="5.4" fill="#3a3a3a" text-anchor="start" letter-spacing="1.45" stroke="#3a3a3a" stroke-width="0.12">5A</text>
<text transform="translate(470.8,73.2) scale(0.7,1)" font-size="5.4" fill="#4a4a4a" text-anchor="start" letter-spacing="1.45" stroke="#4a4a4a" stroke-width="0.05">85A</text>
<line x1="470.8" y1="74.3" x2="480.3" y2="74.3" stroke="#4a4a4a" stroke-width="0.6"/>
<text transform="translate(465.5,24.8) scale(0.64,1)" font-size="6" fill="#4a4a4a" text-anchor="middle" letter-spacing="1.25" stroke="#4a4a4a" stroke-width="0.05">HOT IN ACC</text>
<text transform="translate(465.5,30.8) scale(0.64,1)" font-size="6" fill="#4a4a4a" text-anchor="middle" letter-spacing="1.25" stroke="#4a4a4a" stroke-width="0.05">OR START</text>
<text transform="translate(340,91.8) scale(0.7,1)" font-size="5.4" fill="#4a4a4a" text-anchor="end" letter-spacing="1.45" stroke="#4a4a4a" stroke-width="0.05">RED/</text>
<text transform="translate(340,98) scale(0.7,1)" font-size="5.4" fill="#4a4a4a" text-anchor="end" letter-spacing="1.45" stroke="#4a4a4a" stroke-width="0.05">YEL</text>
<text transform="translate(375,91.8) scale(0.7,1)" font-size="5.4" fill="#4a4a4a" text-anchor="end" letter-spacing="1.45" stroke="#4a4a4a" stroke-width="0.05">BLK/</text>
<text transform="translate(375,98) scale(0.7,1)" font-size="5.4" fill="#4a4a4a" text-anchor="end" letter-spacing="1.45" stroke="#4a4a4a" stroke-width="0.05">GRN</text>
<text transform="translate(418.5,91.8) scale(0.7,1)" font-size="5.4" fill="#4a4a4a" text-anchor="end" letter-spacing="1.45" stroke="#4a4a4a" stroke-width="0.05">RED/</text>
<text transform="translate(418.5,98) scale(0.7,1)" font-size="5.4" fill="#4a4a4a" text-anchor="end" letter-spacing="1.45" stroke="#4a4a4a" stroke-width="0.05">BLK</text>
<text transform="translate(461.5,91.8) scale(0.7,1)" font-size="5.4" fill="#4a4a4a" text-anchor="end" letter-spacing="1.45" stroke="#4a4a4a" stroke-width="0.05">BLK/</text>
<text transform="translate(461.5,98) scale(0.7,1)" font-size="5.4" fill="#4a4a4a" text-anchor="end" letter-spacing="1.45" stroke="#4a4a4a" stroke-width="0.05">YEL</text>
<rect x="590.5" y="68.7" width="48.2" height="25.2" fill="#e7f4fb" stroke="#858585" stroke-width="1.3" stroke-dasharray="5,3"/>
<line x1="535" y1="76.8" x2="586" y2="76.8" stroke="#40b040" stroke-width="1.35"/>
<path d="M530,76.8 L535.5,73.8 L535.5,79.8 Z" fill="#111"/>
<path d="M588.7,73.3 q-2.5,0.5 -2,3.5 q-0.5,3 2,3.5" stroke="#444" stroke-width="0.8" fill="none"/>
<text transform="translate(593,78.8) scale(0.7,1)" font-size="5.4" fill="#444" text-anchor="start" letter-spacing="1.45" stroke="#444" stroke-width="0.04">CAN-C L</text>
<text transform="translate(584.5,75.2) scale(0.85,1)" font-size="5.2" fill="#555" text-anchor="end" letter-spacing="0.5">11</text>
<line x1="535" y1="85.5" x2="586" y2="85.5" stroke="#70c060" stroke-width="1.35"/>
<path d="M530,85.5 L535.5,82.5 L535.5,88.5 Z" fill="#111"/>
<path d="M588.7,82.0 q-2.5,0.5 -2,3.5 q-0.5,3 2,3.5" stroke="#444" stroke-width="0.8" fill="none"/>
<text transform="translate(593,87.5) scale(0.7,1)" font-size="5.4" fill="#444" text-anchor="start" letter-spacing="1.45" stroke="#444" stroke-width="0.04">CAN-C H</text>
<text transform="translate(584.5,83.9) scale(0.85,1)" font-size="5.2" fill="#555" text-anchor="end" letter-spacing="0.5">1</text>
<text transform="translate(570.8,75.4) scale(0.7,1)" font-size="5.4" fill="#4a4a4a" text-anchor="end" letter-spacing="1.45" stroke="#4a4a4a" stroke-width="0.05">GRN</text>
<text transform="translate(570.3,84.1) scale(0.7,1)" font-size="5.4" fill="#4a4a4a" text-anchor="end" letter-spacing="1.45" stroke="#4a4a4a" stroke-width="0.05">GRN/WHT</text>
<text transform="translate(581.2,92.4) scale(0.7,1)" font-size="5.4" fill="#2c2c2c" text-anchor="middle" letter-spacing="1.45" stroke="#2c2c2c" stroke-width="0.12">C4</text>
<line x1="578.45" y1="93.5" x2="583.95" y2="93.5" stroke="#2c2c2c" stroke-width="0.6"/>
<text transform="translate(525.8,78) scale(0.7,1)" font-size="5.4" fill="#2c2c2c" text-anchor="end" letter-spacing="1.45" stroke="#2c2c2c" stroke-width="0.12">COMPUTER</text>
<text transform="translate(525.8,84.3) scale(0.7,1)" font-size="5.4" fill="#2c2c2c" text-anchor="end" letter-spacing="1.45" stroke="#2c2c2c" stroke-width="0.12">DATA LINES</text>
<text transform="translate(525.8,91) scale(0.7,1)" font-size="5.4" fill="#2c2c2c" text-anchor="end" letter-spacing="1.45" stroke="#2c2c2c" stroke-width="0.12">SYSTEM</text>
<text transform="translate(637.8,101.7) scale(0.7,1)" font-size="5.4" fill="#2c2c2c" text-anchor="end" letter-spacing="1.45" stroke="#2c2c2c" stroke-width="0.12">ME-SFI CONTROL</text>
<text transform="translate(637.8,107.8) scale(0.7,1)" font-size="5.4" fill="#2c2c2c" text-anchor="end" letter-spacing="1.45" stroke="#2c2c2c" stroke-width="0.12">MODULE</text>
<text transform="translate(637.8,114.4) scale(0.7,1)" font-size="5.4" fill="#2c2c2c" text-anchor="end" letter-spacing="1.45" stroke="#2c2c2c" stroke-width="0.12">(RIGHT REAR OF</text>
<text transform="translate(637.8,120.5) scale(0.7,1)" font-size="5.4" fill="#2c2c2c" text-anchor="end" letter-spacing="1.45" stroke="#2c2c2c" stroke-width="0.12">ENGINE COMPT)</text>
<rect x="598.8" y="129.5" width="39.9" height="268" fill="#e7f4fb" stroke="#858585" stroke-width="1.3" stroke-dasharray="5,3"/>
<line x1="542" y1="137.7" x2="595" y2="137.7" stroke="#9c7c34" stroke-width="1.35"/>
<path d="M538.4,137.7 L543.9,134.7 L543.9,140.7 Z" fill="#111"/>
<path d="M598.0,134.2 q-2.5,0.5 -2,3.5 q-0.5,3 2,3.5" stroke="#444" stroke-width="0.8" fill="none"/>
<text transform="translate(601.6,139.7) scale(0.7,1)" font-size="5.4" fill="#444" text-anchor="start" letter-spacing="1.45" stroke="#444" stroke-width="0.04">CAN-B L</text>
<text transform="translate(594,136.1) scale(0.85,1)" font-size="5.2" fill="#555" text-anchor="end" letter-spacing="0.5">1</text>
<text transform="translate(578,136.29999999999998) scale(0.7,1)" font-size="5.4" fill="#4a4a4a" text-anchor="end" letter-spacing="1.45" stroke="#4a4a4a" stroke-width="0.05">BRN</text>
<line x1="542" y1="146.3" x2="595" y2="146.3" stroke="#e2704e" stroke-width="1.35"/>
<path d="M538.4,146.3 L543.9,143.3 L543.9,149.3 Z" fill="#111"/>
<path d="M598.0,142.8 q-2.5,0.5 -2,3.5 q-0.5,3 2,3.5" stroke="#444" stroke-width="0.8" fill="none"/>
<text transform="translate(601.6,148.3) scale(0.7,1)" font-size="5.4" fill="#444" text-anchor="start" letter-spacing="1.45" stroke="#444" stroke-width="0.04">CAN-B H</text>
<text transform="translate(594,144.70000000000002) scale(0.85,1)" font-size="5.2" fill="#555" text-anchor="end" letter-spacing="0.5">2</text>
<text transform="translate(578,144.9) scale(0.7,1)" font-size="5.4" fill="#4a4a4a" text-anchor="end" letter-spacing="1.45" stroke="#4a4a4a" stroke-width="0.05">BRN/RED</text>
<line x1="542" y1="172.2" x2="595" y2="172.2" stroke="#9c7c34" stroke-width="1.35"/>
<path d="M538.4,172.2 L543.9,169.2 L543.9,175.2 Z" fill="#111"/>
<path d="M598.0,168.7 q-2.5,0.5 -2,3.5 q-0.5,3 2,3.5" stroke="#444" stroke-width="0.8" fill="none"/>
<text transform="translate(601.6,174.2) scale(0.7,1)" font-size="5.4" fill="#444" text-anchor="start" letter-spacing="1.45" stroke="#444" stroke-width="0.04">CAN-B L</text>
<text transform="translate(594,170.6) scale(0.85,1)" font-size="5.2" fill="#555" text-anchor="end" letter-spacing="0.5">6</text>
<text transform="translate(578,170.79999999999998) scale(0.7,1)" font-size="5.4" fill="#4a4a4a" text-anchor="end" letter-spacing="1.45" stroke="#4a4a4a" stroke-width="0.05">BRN</text>
<line x1="542" y1="180.8" x2="595" y2="180.8" stroke="#e2704e" stroke-width="1.35"/>
<path d="M538.4,180.8 L543.9,177.8 L543.9,183.8 Z" fill="#111"/>
<path d="M598.0,177.3 q-2.5,0.5 -2,3.5 q-0.5,3 2,3.5" stroke="#444" stroke-width="0.8" fill="none"/>
<text transform="translate(601.6,182.8) scale(0.7,1)" font-size="5.4" fill="#444" text-anchor="start" letter-spacing="1.45" stroke="#444" stroke-width="0.04">CAN-B H</text>
<text transform="translate(594,179.20000000000002) scale(0.85,1)" font-size="5.2" fill="#555" text-anchor="end" letter-spacing="0.5">7</text>
<text transform="translate(578,179.4) scale(0.7,1)" font-size="5.4" fill="#4a4a4a" text-anchor="end" letter-spacing="1.45" stroke="#4a4a4a" stroke-width="0.05">BRN/RED</text>
<text transform="translate(590.5,154) scale(0.7,1)" font-size="5.4" fill="#2c2c2c" text-anchor="middle" letter-spacing="1.45" stroke="#2c2c2c" stroke-width="0.12">C2</text>
<line x1="587.75" y1="155.1" x2="593.25" y2="155.1" stroke="#2c2c2c" stroke-width="0.6"/>
<path d="M538,133.7 q-2.5,0 -2.5,2.5 v15.5 q0,2.3 -2,2.3 q2,0 2,2.3 v26 q0,2.5 2.5,2.5" stroke="#555" stroke-width="0.7" fill="none"/>
<text transform="translate(529.8,150.3) scale(0.7,1)" font-size="5.4" fill="#2c2c2c" text-anchor="end" letter-spacing="1.45" stroke="#2c2c2c" stroke-width="0.12">COMPUTER</text>
<text transform="translate(529.8,156.7) scale(0.7,1)" font-size="5.4" fill="#2c2c2c" text-anchor="end" letter-spacing="1.45" stroke="#2c2c2c" stroke-width="0.12">DATA LINES</text>
<text transform="translate(529.8,163.4) scale(0.7,1)" font-size="5.4" fill="#2c2c2c" text-anchor="end" letter-spacing="1.45" stroke="#2c2c2c" stroke-width="0.12">SYSTEM</text>
<polyline points="447.8,216.5 447.8,189.4 595,189.4" stroke="#9c7c34" stroke-width="1.35" fill="none" />
<path d="M598.0,185.9 q-2.5,0.5 -2,3.5 q-0.5,3 2,3.5" stroke="#444" stroke-width="0.8" fill="none"/>
<text transform="translate(601.6,191.4) scale(0.7,1)" font-size="5.4" fill="#444" text-anchor="start" letter-spacing="1.45" stroke="#444" stroke-width="0.04">BRK FLUID</text>
<text transform="translate(578,188) scale(0.7,1)" font-size="5.4" fill="#4a4a4a" text-anchor="end" letter-spacing="1.45" stroke="#4a4a4a" stroke-width="0.05">BRN/BLK</text>
<text transform="translate(594,187.6) scale(0.85,1)" font-size="5.2" fill="#555" text-anchor="end" letter-spacing="0.5">16</text>
<text transform="translate(590.5,198) scale(0.7,1)" font-size="5.4" fill="#2c2c2c" text-anchor="middle" letter-spacing="1.45" stroke="#2c2c2c" stroke-width="0.12">C4</text>
<line x1="587.75" y1="199.1" x2="593.25" y2="199.1" stroke="#2c2c2c" stroke-width="0.6"/>
<polyline points="534.2,216.5 534.2,207.2 595,207.2" stroke="#9c7c34" stroke-width="1.35" fill="none" />
<path d="M598.0,203.7 q-2.5,0.5 -2,3.5 q-0.5,3 2,3.5" stroke="#444" stroke-width="0.8" fill="none"/>
<text transform="translate(601.6,209.2) scale(0.7,1)" font-size="5.4" fill="#444" text-anchor="start" letter-spacing="1.45" stroke="#444" stroke-width="0.04">BFS</text>
<text transform="translate(578,205.6) scale(0.7,1)" font-size="5.4" fill="#4a4a4a" text-anchor="end" letter-spacing="1.45" stroke="#4a4a4a" stroke-width="0.05">BRN/WHT</text>
<text transform="translate(594,205.4) scale(0.85,1)" font-size="5.2" fill="#555" text-anchor="end" letter-spacing="0.5">9</text>
<line x1="517" y1="346" x2="595" y2="346" stroke="#a59050" stroke-width="1.35"/>
<path d="M598.0,342.5 q-2.5,0.5 -2,3.5 q-0.5,3 2,3.5" stroke="#444" stroke-width="0.8" fill="none"/>
<text transform="translate(593.5,344) scale(0.85,1)" font-size="5.2" fill="#555" text-anchor="end" letter-spacing="0.5">14</text>
<text transform="translate(518.3,344) scale(0.85,1)" font-size="5.2" fill="#555" text-anchor="start" letter-spacing="0.5">1</text>
<text transform="translate(526.4,344) scale(0.7,1)" font-size="5.4" fill="#4a4a4a" text-anchor="start" letter-spacing="1.45" stroke="#4a4a4a" stroke-width="0.05">BRN/GRN</text>
<line x1="517" y1="372.1" x2="595" y2="372.1" stroke="#40b040" stroke-width="1.35"/>
<path d="M598.0,368.6 q-2.5,0.5 -2,3.5 q-0.5,3 2,3.5" stroke="#444" stroke-width="0.8" fill="none"/>
<text transform="translate(593.5,370.1) scale(0.85,1)" font-size="5.2" fill="#555" text-anchor="end" letter-spacing="0.5">3</text>
<text transform="translate(518.3,370.1) scale(0.85,1)" font-size="5.2" fill="#555" text-anchor="start" letter-spacing="0.5">2</text>
<text transform="translate(526.4,370.1) scale(0.7,1)" font-size="5.4" fill="#4a4a4a" text-anchor="start" letter-spacing="1.45" stroke="#4a4a4a" stroke-width="0.05">GRN</text>
<text transform="translate(589.5,380.5) scale(0.7,1)" font-size="5.4" fill="#2c2c2c" text-anchor="middle" letter-spacing="1.45" stroke="#2c2c2c" stroke-width="0.12">C3</text>
<line x1="586.75" y1="381.6" x2="592.25" y2="381.6" stroke="#2c2c2c" stroke-width="0.6"/>
<text transform="translate(637.2,405) scale(0.7,1)" font-size="5.4" fill="#2c2c2c" text-anchor="end" letter-spacing="1.45" stroke="#2c2c2c" stroke-width="0.12">LEFT FRONT SAM</text>
<text transform="translate(637.2,411.7) scale(0.7,1)" font-size="5.4" fill="#2c2c2c" text-anchor="end" letter-spacing="1.45" stroke="#2c2c2c" stroke-width="0.12">CONTROL MODULE</text>
<text transform="translate(637.2,418) scale(0.7,1)" font-size="5.4" fill="#2c2c2c" text-anchor="end" letter-spacing="1.45" stroke="#2c2c2c" stroke-width="0.12">(LEFT SIDE IN</text>
<text transform="translate(637.2,424.7) scale(0.7,1)" font-size="5.4" fill="#2c2c2c" text-anchor="end" letter-spacing="1.45" stroke="#2c2c2c" stroke-width="0.12">FUSE RELAY</text>
<text transform="translate(637.2,431.4) scale(0.7,1)" font-size="5.4" fill="#2c2c2c" text-anchor="end" letter-spacing="1.45" stroke="#2c2c2c" stroke-width="0.12">BOX)</text>
<rect x="435.8" y="218.8" width="24.5" height="28.4" fill="#e4f2f9" stroke="#6f6f6f" stroke-width="1.0"/>
<path d="M447.8,216.5 q-3,-2 -6,0" stroke="#555" stroke-width="0.7" fill="none"/>
<path d="M445.4,221.6 l2.2,-2.6 l2.2,2.6 M447.6,219 V225.6" stroke="#444" stroke-width="0.9" fill="none"/>
<circle cx="447.6" cy="225.6" r="1.35" fill="#1a1a1a"/>
<circle cx="439.4" cy="240.6" r="1.35" fill="#1a1a1a"/>
<circle cx="456.4" cy="240.6" r="1.35" fill="#1a1a1a"/>
<line x1="439.4" y1="240.6" x2="447.6" y2="225.6" stroke="#333" stroke-width="1.0"/>
<path d="M456.4,240.6 V246.5 M454.2,243.8 l2.2,2.8 l2.2,-2.8" stroke="#444" stroke-width="0.9" fill="none"/>
<path d="M453.6,248.5 q3,2.3 6,0" stroke="#555" stroke-width="0.7" fill="none"/>
<text transform="translate(444.5,214.8) scale(0.9,1)" font-size="4.4" fill="#666" text-anchor="middle" letter-spacing="0.2">2</text>
<text transform="translate(452.4,257) scale(0.9,1)" font-size="4.4" fill="#666" text-anchor="middle" letter-spacing="0.2">1</text>
<line x1="456.6" y1="249.5" x2="456.6" y2="292" stroke="#9c7c34" stroke-width="1.35"/>
<circle cx="456.6" cy="294.2" r="1.8" fill="#111"/>
<path d="M453.6,296.7 h6 M454.6,297.9 h4 M455.6,299.0 h2" stroke="#444" stroke-width="0.6"/>
<text transform="translate(452.7,289.4) scale(0.7,1)" font-size="5.4" fill="#4a4a4a" text-anchor="end" letter-spacing="1.45" stroke="#4a4a4a" stroke-width="0.05">BRN</text>
<text transform="translate(462,222.8) scale(0.7,1)" font-size="5.4" fill="#2c2c2c" text-anchor="start" letter-spacing="1.45" stroke="#2c2c2c" stroke-width="0.12">PARKING</text>
<text transform="translate(462,229.6) scale(0.7,1)" font-size="5.4" fill="#2c2c2c" text-anchor="start" letter-spacing="1.45" stroke="#2c2c2c" stroke-width="0.12">BRAKE</text>
<text transform="translate(462,236.4) scale(0.7,1)" font-size="5.4" fill="#2c2c2c" text-anchor="start" letter-spacing="1.45" stroke="#2c2c2c" stroke-width="0.12">SWITCH</text>
<text transform="translate(462,242.7) scale(0.7,1)" font-size="5.4" fill="#2c2c2c" text-anchor="start" letter-spacing="1.45" stroke="#2c2c2c" stroke-width="0.12">(ON</text>
<text transform="translate(462,249) scale(0.7,1)" font-size="5.4" fill="#2c2c2c" text-anchor="start" letter-spacing="1.45" stroke="#2c2c2c" stroke-width="0.12">PARKING</text>
<text transform="translate(462,255.5) scale(0.7,1)" font-size="5.4" fill="#2c2c2c" text-anchor="start" letter-spacing="1.45" stroke="#2c2c2c" stroke-width="0.12">BRAKE</text>
<text transform="translate(462,262.3) scale(0.7,1)" font-size="5.4" fill="#2c2c2c" text-anchor="start" letter-spacing="1.45" stroke="#2c2c2c" stroke-width="0.12">SUPPORT</text>
<text transform="translate(462,269) scale(0.7,1)" font-size="5.4" fill="#2c2c2c" text-anchor="start" letter-spacing="1.45" stroke="#2c2c2c" stroke-width="0.12">BRACKET)</text>
<text transform="translate(456.4,304.5) scale(0.7,1)" font-size="5.4" fill="#2c2c2c" text-anchor="middle" letter-spacing="1.45" stroke="#2c2c2c" stroke-width="0.12">W15/1</text>
<text transform="translate(456.4,311.8) scale(0.7,1)" font-size="5.4" fill="#2c2c2c" text-anchor="middle" letter-spacing="1.45" stroke="#2c2c2c" stroke-width="0.12">(AT LEFT</text>
<text transform="translate(456.4,318) scale(0.7,1)" font-size="5.4" fill="#2c2c2c" text-anchor="middle" letter-spacing="1.45" stroke="#2c2c2c" stroke-width="0.12">FOOTWELL)</text>
<rect x="492.5" y="219.1" width="58.5" height="45.3" fill="#e4f2f9" stroke="#6f6f6f" stroke-width="1.0"/>
<path d="M537.2,216.5 q-3,-2 -6,0" stroke="#555" stroke-width="0.7" fill="none"/>
<path d="M532.2,222.3 l2.2,-2.6 l2.2,2.6 M534.4,219.8 V234.2 M534.4,227.4 H508.3 V234.2" stroke="#444" stroke-width="0.9" fill="none"/>
<circle cx="534.4" cy="227.4" r="1.35" fill="#1a1a1a"/>
<circle cx="508.3" cy="234.2" r="1.35" fill="#1a1a1a"/>
<circle cx="534.4" cy="234.2" r="1.35" fill="#1a1a1a"/>
<circle cx="500.2" cy="248.9" r="1.35" fill="#1a1a1a"/>
<circle cx="526.2" cy="248.9" r="1.35" fill="#1a1a1a"/>
<circle cx="517" cy="248.9" r="1.35" fill="#1a1a1a"/>
<circle cx="543.1" cy="248.9" r="1.35" fill="#1a1a1a"/>
<circle cx="543.1" cy="257.2" r="1.35" fill="#1a1a1a"/>
<line x1="500.2" y1="248.9" x2="508.3" y2="234.2" stroke="#333" stroke-width="0.9"/>
<line x1="526.2" y1="248.9" x2="534.4" y2="234.2" stroke="#333" stroke-width="0.9"/>
<path d="M517,248.9 V257.2 H543.1 M543.1,248.9 V264 M540.9,261.3 l2.2,2.8 l2.2,-2.8" stroke="#444" stroke-width="0.9" fill="none"/>
<path d="M540.1,266 q3,2.3 6,0" stroke="#555" stroke-width="0.7" fill="none"/>
<text transform="translate(531.5,215) scale(0.9,1)" font-size="4.4" fill="#666" text-anchor="middle" letter-spacing="0.2">2</text>
<text transform="translate(539.4,274.7) scale(0.9,1)" font-size="4.4" fill="#666" text-anchor="middle" letter-spacing="0.2">1</text>
<line x1="542.8" y1="267" x2="542.8" y2="292" stroke="#9c7c34" stroke-width="1.35"/>
<circle cx="542.8" cy="294.4" r="1.8" fill="#111"/>
<path d="M539.8,296.9 h6 M540.8,298.09999999999997 h4 M541.8,299.2 h2" stroke="#444" stroke-width="0.6"/>
<text transform="translate(539.5,289) scale(0.7,1)" font-size="5.4" fill="#4a4a4a" text-anchor="end" letter-spacing="1.45" stroke="#4a4a4a" stroke-width="0.05">BRN</text>
<text transform="translate(553,224.9) scale(0.7,1)" font-size="5.4" fill="#2c2c2c" text-anchor="start" letter-spacing="1.45" stroke="#2c2c2c" stroke-width="0.12">BRAKE</text>
<text transform="translate(553,231.2) scale(0.7,1)" font-size="5.4" fill="#2c2c2c" text-anchor="start" letter-spacing="1.45" stroke="#2c2c2c" stroke-width="0.12">FLUID</text>
<text transform="translate(553,237.6) scale(0.7,1)" font-size="5.4" fill="#2c2c2c" text-anchor="start" letter-spacing="1.45" stroke="#2c2c2c" stroke-width="0.12">INDICATOR</text>
<text transform="translate(553,244.3) scale(0.7,1)" font-size="5.4" fill="#2c2c2c" text-anchor="start" letter-spacing="1.45" stroke="#2c2c2c" stroke-width="0.12">SWITCH</text>
<text transform="translate(553,250.6) scale(0.7,1)" font-size="5.4" fill="#2c2c2c" text-anchor="start" letter-spacing="1.45" stroke="#2c2c2c" stroke-width="0.12">(LEFT REAR</text>
<text transform="translate(553,257.3) scale(0.7,1)" font-size="5.4" fill="#2c2c2c" text-anchor="start" letter-spacing="1.45" stroke="#2c2c2c" stroke-width="0.12">OF ENGINE</text>
<text transform="translate(553,264) scale(0.7,1)" font-size="5.4" fill="#2c2c2c" text-anchor="start" letter-spacing="1.45" stroke="#2c2c2c" stroke-width="0.12">COMPT)</text>
<text transform="translate(543,306) scale(0.7,1)" font-size="5.4" fill="#2c2c2c" text-anchor="middle" letter-spacing="1.45" stroke="#2c2c2c" stroke-width="0.12">W9</text>
<text transform="translate(543,311.7) scale(0.7,1)" font-size="5.4" fill="#2c2c2c" text-anchor="middle" letter-spacing="1.45" stroke="#2c2c2c" stroke-width="0.12">(LEFT SIDE</text>
<text transform="translate(543,318) scale(0.7,1)" font-size="5.4" fill="#2c2c2c" text-anchor="middle" letter-spacing="1.45" stroke="#2c2c2c" stroke-width="0.12">OF ENGINE</text>
<text transform="translate(543,324.8) scale(0.7,1)" font-size="5.4" fill="#2c2c2c" text-anchor="middle" letter-spacing="1.45" stroke="#2c2c2c" stroke-width="0.12">COMPT)</text>
<rect x="487.4" y="341.2" width="27.4" height="36.1" fill="#e4f2f9" stroke="#6f6f6f" stroke-width="1.0"/>
<path d="M513.5,346 H499.6 V351 M499.6,366 V371.5 H513.5" stroke="#8f9497" stroke-width="1.1" fill="none"/>
<path d="M512,343.6 l2.3,2.4 l-2.3,2.4 M512,369.1 l2.3,2.4 l-2.3,2.4" stroke="#555" stroke-width="0.7" fill="none"/>
<circle cx="514" cy="346" r="1.1" fill="#222"/>
<circle cx="514" cy="371.5" r="1.1" fill="#222"/>
<path d="M499.6,351 l-2.2,1.5 l4.4,2 l-4.4,2 l4.4,2 l-4.4,2 l4.4,2 l-2.2,1.5 V366 M496,365 l7,-12" stroke="#444" stroke-width="0.8" fill="none"/>
<path d="M517,343 q-2,3 0,6 M517,369 q-2,3 0,6" stroke="#555" stroke-width="0.6" fill="none"/>
<text transform="translate(487.4,383.6) scale(0.7,1)" font-size="5.4" fill="#2c2c2c" text-anchor="start" letter-spacing="1.45" stroke="#2c2c2c" stroke-width="0.12">AMBIENT TEMPERATURE</text>
<text transform="translate(487.4,390.3) scale(0.7,1)" font-size="5.4" fill="#2c2c2c" text-anchor="start" letter-spacing="1.45" stroke="#2c2c2c" stroke-width="0.12">DISPLAY TEMPERATURE</text>
<text transform="translate(487.4,396.7) scale(0.7,1)" font-size="5.4" fill="#2c2c2c" text-anchor="start" letter-spacing="1.45" stroke="#2c2c2c" stroke-width="0.12">SENSOR</text>
<text transform="translate(487.4,403) scale(0.7,1)" font-size="5.4" fill="#2c2c2c" text-anchor="start" letter-spacing="1.45" stroke="#2c2c2c" stroke-width="0.12">(BEHIND LEFT SIDE</text>
<text transform="translate(487.4,408.8) scale(0.7,1)" font-size="5.4" fill="#2c2c2c" text-anchor="start" letter-spacing="1.45" stroke="#2c2c2c" stroke-width="0.12">OF FRONT BUMPER)</text>
</svg></body></html>
